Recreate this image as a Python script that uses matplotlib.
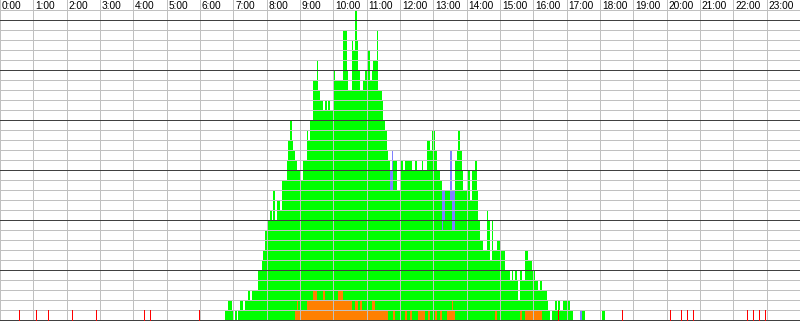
import matplotlib
matplotlib.use("Agg")
import matplotlib.pyplot as plt
import numpy as np

# ---------------- data ----------------
bin_start = "6:45"      # start of first bin
bin_minutes = 3         # width of each bin in minutes

green = [
    1, 1, 2, 2, 1,
    0, 1, 0, 1, 2, 2, 1, 2, 2, 3,
    2, 3, 3, 3, 3, 5, 5, 6, 7, 9,
    10, 10, 11, 10, 13, 10, 12, 12, 11, 14,
    14, 14, 16, 18, 20, 18, 17, 15, 13, 14,
    13, 13, 15, 15, 17, 16, 18, 18, 21, 21,
    24, 21, 20, 20, 18, 20, 19, 20, 19, 19,
    23, 22, 22, 21, 21, 21, 27, 27, 23, 21,
    21, 27, 26, 29, 26, 24, 21, 22, 23, 24,
    24, 26, 23, 23, 24, 25, 28, 22, 22, 21,
    19, 18, 16, 16, 13, 13, 15, 16, 13, 13,
    16, 16, 15, 15, 16, 16, 15, 15, 15, 16,
    15, 14, 14, 15, 14, 15, 18, 17, 17, 19,
    19, 16, 15, 15, 13, 9, 10, 13, 12, 12,
    11, 7, 8, 16, 17, 19, 17, 15, 13, 13,
    14, 15, 12, 15, 15, 16, 13, 10, 8, 8,
    7, 7, 11, 10, 6, 10, 7, 6, 8, 8,
    7, 7, 7, 5, 5, 5, 4, 5, 4, 5,
    4, 2, 4, 4, 4, 6, 6, 5, 5, 4,
    4, 3, 3, 2, 3, 3, 3, 3, 2, 1,
    0, 1, 1, 2, 1, 2, 1, 1, 2, 2,
    2, 2, 1, 1, 0, 0, 0, 0, 0, 1,
    1, 0, 0, 0, 0, 0, 0, 0, 0, 0,
    0, 1, 1,
]

orange = [
    0, 0, 0, 0, 0,
    0, 0, 0, 0, 0, 0, 0, 0, 0, 0,
    0, 0, 0, 0, 0, 0, 0, 0, 0, 0,
    0, 0, 0, 0, 0, 0, 0, 0, 0, 0,
    0, 0, 0, 0, 0, 0, 0, 1, 2, 1,
    1, 1, 1, 1, 2, 2, 2, 2, 3, 3,
    2, 2, 2, 2, 3, 2, 2, 2, 2, 2,
    2, 2, 2, 3, 3, 3, 2, 2, 2, 2,
    2, 1, 1, 2, 2, 1, 2, 1, 1, 1,
    1, 1, 1, 2, 2, 1, 1, 1, 1, 1,
    1, 1, 1, 0, 0, 0, 1, 0, 0, 0,
    0, 0, 0, 1, 0, 0, 1, 0, 0, 0,
    0, 1, 1, 1, 1, 0, 0, 1, 0, 0,
    0, 1, 0, 0, 1, 0, 0, 0, 1, 1,
    1, 2, 1, 0, 0, 0, 0, 0, 0, 0,
    1, 0, 0, 0, 0, 0, 0, 0, 0, 0,
    0, 0, 0, 0, 0, 0, 0, 1, 0, 0,
    0, 0, 0, 0, 0, 0, 0, 0, 0, 0,
    0, 0, 1, 0, 0, 1, 1, 1, 1, 1,
    1, 1, 1, 1, 1, 0, 0, 0, 0, 0,
    0, 0, 0, 0, 0, 0, 0, 0, 0, 0,
    0, 0, 0, 0, 0, 0, 0, 0, 0, 0,
    0, 0, 0, 0, 0, 0, 0, 0, 0, 0,
    0, 0, 0,
]

blue = [
    0, 0, 0, 0, 0,
    0, 0, 0, 0, 0, 0, 0, 0, 0, 0,
    0, 0, 0, 0, 0, 0, 0, 0, 0, 0,
    0, 0, 0, 0, 0, 0, 0, 0, 0, 0,
    0, 0, 0, 0, 0, 0, 0, 0, 0, 0,
    0, 0, 0, 0, 0, 0, 0, 0, 0, 0,
    0, 0, 0, 0, 0, 0, 0, 0, 0, 0,
    0, 0, 0, 0, 0, 0, 0, 0, 0, 0,
    0, 0, 0, 0, 0, 0, 0, 0, 0, 0,
    0, 0, 0, 0, 0, 0, 0, 0, 0, 0,
    0, 0, 0, 0, 2, 4, 0, 0, 0, 0,
    0, 0, 0, 0, 0, 0, 0, 0, 0, 0,
    0, 0, 0, 0, 0, 0, 0, 0, 0, 0,
    0, 0, 0, 0, 0, 4, 3, 0, 0, 0,
    5, 4, 4, 0, 0, 0, 0, 0, 0, 0,
    0, 0, 0, 0, 0, 0, 0, 0, 0, 0,
    0, 0, 0, 0, 0, 0, 0, 0, 0, 0,
    0, 0, 0, 0, 0, 0, 0, 0, 0, 0,
    0, 0, 0, 0, 0, 0, 0, 0, 0, 0,
    0, 0, 0, 0, 0, 0, 0, 0, 0, 0,
    0, 0, 0, 0, 0, 0, 0, 0, 0, 0,
    0, 0, 0, 0, 0, 0, 0, 0, 1, 0,
    0, 0, 0, 0, 0, 0, 0, 0, 0, 0,
    0, 0, 0,
]

red_marks = ["0:35", "1:05", "1:27", "2:10", "2:53", "4:20", "4:30", "5:59",
             "16:45", "18:40", "20:06", "20:26", "20:37", "20:48",
             "22:25", "22:36", "22:47", "22:57"]

hour_labels = ["0:00", "1:00", "2:00", "3:00", "4:00", "5:00", "6:00", "7:00",
               "8:00", "9:00", "10:00", "11:00", "12:00", "13:00", "14:00",
               "15:00", "16:00", "17:00", "18:00", "19:00", "20:00", "21:00",
               "22:00", "23:00"]


def to_min(s):
    h, m = s.split(":")
    return int(h) * 60 + int(m)


# ---------------- plot ----------------
start = to_min(bin_start)
g = np.array(green)
o = np.array(orange)
b = np.array(blue)
x = start + bin_minutes * np.arange(len(g))

fig = plt.figure(figsize=(8, 3.21), dpi=100)
fig.patch.set_facecolor("white")
ax = fig.add_axes([0, 0, 1, 1])
ax.set_xlim(0, 1440)
ax.set_ylim(-0.1, 32)
ax.axis("off")

kw = dict(width=bin_minutes, align="edge", linewidth=0, antialiased=False, zorder=2)
ax.bar(x, o, color="#FF8000", **kw)
ax.bar(x, g, bottom=o, color="#00FF00", **kw)
ax.bar(x, b, bottom=o + g, color="#8080FF", **kw)

LW = 0.7  # ~1 pixel
for v in range(1, 32):
    if v % 5:
        ax.axhline(v, color="#C0C0C0", lw=LW, antialiased=False, zorder=3)
for v in range(0, 31, 5):
    ax.axhline(v, color="#404040", lw=LW, antialiased=False, zorder=3.5)
for h in range(len(hour_labels)):
    ax.axvline(h * 60, color="#C0C0C0", lw=LW, antialiased=False, zorder=3)

ax.vlines([to_min(t) for t in red_marks], 0, 1, colors="#FF0000", lw=LW,
          antialiased=False, zorder=4)

for h, lab in enumerate(hour_labels):
    ax.text(h * 60 + 3.2, 31.1, lab, fontsize=7.3, family="Liberation Sans",
            va="baseline", ha="left", color="black", zorder=5)

fig.savefig("out.png", dpi=100, facecolor="white")
